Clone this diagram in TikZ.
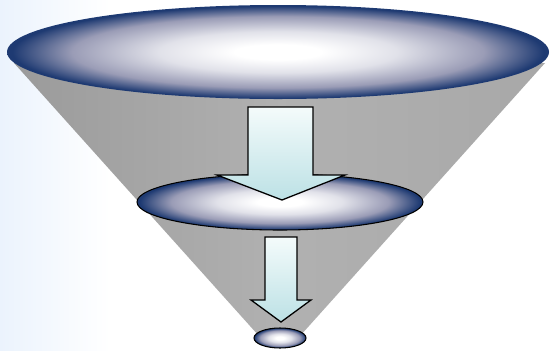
\documentclass[tikz,border=0pt]{standalone}
\usetikzlibrary{calc}
\definecolor{funnelnavy}{HTML}{1E3A72}
\definecolor{funnelmist}{HTML}{9A9CB6}
\definecolor{funnelgray}{HTML}{A8A8A8}
\definecolor{arrowtop}{HTML}{F4FBFB}
\definecolor{arrowbottom}{HTML}{BCE1E5}
\definecolor{paperblue}{HTML}{EBF3FD}
\pgfdeclareradialshading{lensglow}{\pgfpoint{0bp}{0bp}}{%
  color(0bp)=(white); color(4bp)=(white); color(11bp)=(funnelmist!30!white);
  color(19bp)=(funnelmist); color(24.5bp)=(funnelnavy); color(50bp)=(funnelnavy)}
\tikzset{
  lens/.style={shading=lensglow},
  flowarrow/.style={draw=black, line width=1.1pt, line join=miter,
    top color=arrowtop, bottom color=arrowbottom}
}
\begin{document}
\begin{tikzpicture}[x=0.03cm,y=-0.03cm]
        \useasboundingbox (0,0) rectangle (551,350);
        % background
        \shade[left color=paperblue, right color=white] (0,0) rectangle (110,350);
        \fill[white] (110,0) rectangle (551,350);
        % cone body
        \shade[left color=funnelgray!92!black, right color=funnelgray, middle color=funnelgray!90!white]
          (14,63) -- (259,336) -- (300,336) -- (545,63) -- cycle;
        % top opening
        \coordinate (top) at (278,52);
        \shade[lens] (top) ellipse [x radius=271, y radius=47];
        % middle layer
        \coordinate (mid) at (280,202);
        \shade[lens] (mid) ellipse [x radius=143, y radius=28];
        \draw[line width=0.9pt] (mid) ellipse [x radius=143, y radius=28];
        % bottom spot
        \coordinate (low) at (280,338);
        \shade[lens] (low) ellipse [x radius=26, y radius=10];
        \draw[line width=0.9pt] (low) ellipse [x radius=26, y radius=10];
        % arrows
        \path[flowarrow] (248,107) -- (313,107) -- (313,175) -- (345,175)
          -- (282,200) -- (217,175) -- (248,175) -- cycle;
        \path[flowarrow] (265,237) -- (297,237) -- (297,300) -- (311,300)
          -- (281,322) -- (251,300) -- (265,300) -- cycle;
\end{tikzpicture}
\end{document}
